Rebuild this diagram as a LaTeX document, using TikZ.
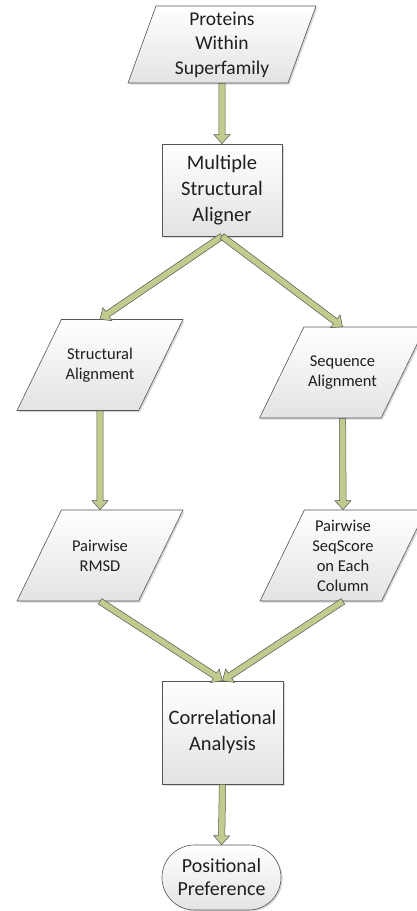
\documentclass[tikz,border=0pt]{standalone}
\usepackage{fontspec}
\setmainfont{Carlito}
\usetikzlibrary{shapes.geometric,shapes.misc,shadows,calc}

\definecolor{arrowgreen}{RGB}{192,204,142}
\definecolor{edgegray}{RGB}{85,85,85}

% fat flowchart arrow from node anchor #1 to node anchor #2
\newcommand{\blockarrow}[2]{%
  \coordinate (ah) at ($(#2)!9pt!(#1)$);
  \draw[blockarr] ($(#1)!3.2pt!90:(#2)$) -- ($(ah)!3.2pt!90:(#2)$) -- ($(ah)!8pt!90:(#2)$)
    -- (#2) -- ($(ah)!8pt!-90:(#2)$) -- ($(ah)!3.2pt!-90:(#2)$) -- ($(#1)!3.2pt!-90:(#2)$) -- cycle;
}

\begin{document}
\begin{tikzpicture}[
      x=1pt, y=-1pt,
      font=\fontsize{20.5}{26}\selectfont,
      shade/.style={draw=edgegray, line width=0.6pt, top color=white, bottom color=black!11,
                    drop shadow={shadow xshift=1.6pt, shadow yshift=-1.6pt, opacity=0.3},
                    align=center, text=black!88, inner sep=2pt},
      lbl/.style  ={align=center, text=black!88, inner sep=0pt},
      box/.style  ={shade, rectangle, minimum width=120pt, minimum height=92pt},
      % parallelograms: empty body sized by inner sep, text set as centre label
      prl/.style  ={shade, trapezium, trapezium left angle=70, trapezium right angle=110,
                    inner xsep=66pt, inner ysep=38.5pt,
                    label={[lbl, font=\fontsize{19.5}{24.5}\selectfont]center:#1}},
      data/.style ={shade, trapezium, trapezium left angle=64, trapezium right angle=116,
                    inner xsep=38.6pt, inner ysep=45.5pt,
                    label={[lbl, font=\fontsize{16.5}{20}\selectfont]center:#1}},
      term/.style ={shade, rounded rectangle, minimum width=123pt, minimum height=65pt,
                    font=\fontsize{20}{23}\selectfont},
      blockarr/.style={fill=arrowgreen, draw=edgegray, line width=0.5pt, line join=miter}
    ]
    \useasboundingbox (0,0) rectangle (417,911);
    % --- nodes ---
    \node[prl={Proteins\\Within\\Superfamily}] (prot) at (222,44.5) {};
    \node[box]  (msa)   at (222,190)     {Multiple\\Structural\\Aligner};
    \node[data={Structural\\Alignment}]           (sal)   at (100,365)     {};
    \node[data={Sequence\\Alignment}]             (seq)   at (342.5,372.5) {};
    \node[data={Pairwise\\RMSD}]                  (rmsd)  at (100,555.5)   {};
    \node[data={Pairwise\\SeqScore\\on Each\\Column}] (score) at (343,555.5) {};
    \node[box, minimum width=121pt, minimum height=103pt] (corr) at (222.5,732.5) {Correlational\\Analysis};
    \node[term] (pos)   at (221.5,877.5) {Positional\\Preference};
    % --- arrows ---
    \blockarrow{prot.south}{msa.north}
    \blockarrow{msa.south}{sal.north}
    \blockarrow{msa.south}{seq.north}
    \blockarrow{sal.south}{rmsd.north}
    \blockarrow{seq.south}{score.north}
    \blockarrow{rmsd.south}{corr.north}
    \blockarrow{score.south}{corr.north}
    \blockarrow{corr.south}{pos.north}
  \end{tikzpicture}
\end{document}
